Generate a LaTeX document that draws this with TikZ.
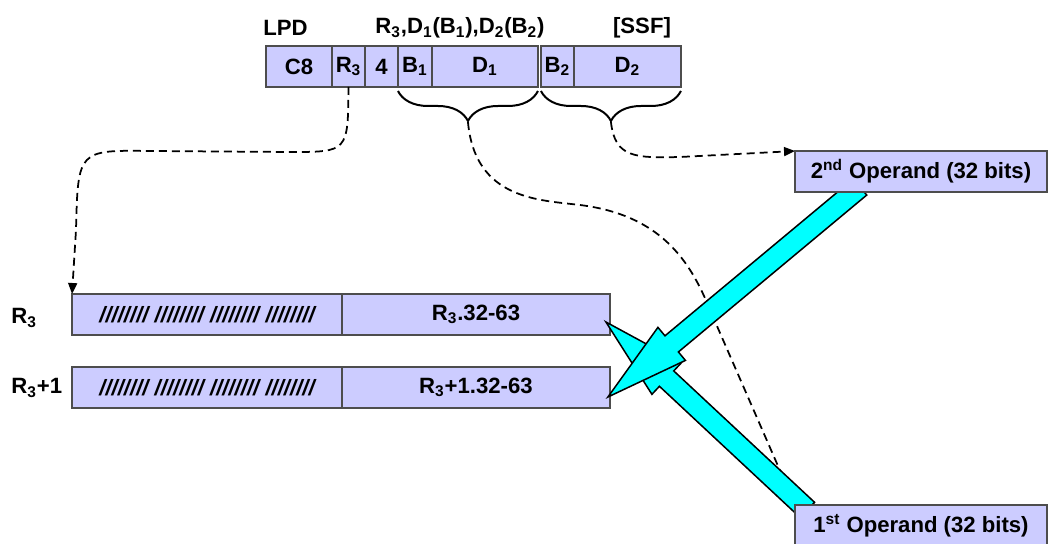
\documentclass[tikz,border=0pt]{standalone}
\usepackage{fontspec}
\setmainfont{Liberation Sans}
\usetikzlibrary{positioning,calc,arrows.meta,decorations.pathreplacing}

\definecolor{fieldfill}{HTML}{CCCCFF}
\definecolor{fieldline}{HTML}{4D4D4D}
\definecolor{flowcyan}{HTML}{00FFFF}

\pgfdeclarelayer{front}
\pgfsetlayers{main,front}

\tikzset{
  fld/.style={draw=fieldline, fill=fieldfill, line width=0.3mm, minimum height=8.2mm,
    inner sep=0pt, outer sep=0pt, font=\bfseries\fontsize{12.6}{15}\selectfont},
  lbl/.style={inner sep=0pt, font=\bfseries\fontsize{12.6}{15}\selectfont},
  opbrace/.style={decorate, decoration={brace, amplitude=6mm}, line width=0.4mm},
  ptr/.style={dashed, dash pattern=on 1.6mm off 1mm, line width=0.35mm,
    -{Triangle[length=2.2mm,width=1.8mm]}},
  link/.style={dashed, dash pattern=on 1.6mm off 1mm, line width=0.35mm},
  flow/.style={fill=flowcyan, draw=black, line width=0.3mm, line join=miter}
}

% block arrow: tail, tip, name
\newcommand{\flowarrow}[3]{%
  \coordinate (#3h) at ($(#2)!1.66cm!(#1)$);
  \filldraw[flow] ($(#1)!0.21cm!90:(#2)$) -- ($(#3h)!0.21cm!90:(#2)$)
    -- ($(#3h)!0.43cm!90:(#2)$) -- (#2) -- ($(#3h)!0.43cm!-90:(#2)$)
    -- ($(#3h)!0.21cm!-90:(#2)$) -- ($(#1)!0.21cm!-90:(#2)$) -- cycle;
}

\begin{document}
\begin{tikzpicture}[x=0.02cm, y=0.02cm]
\useasboundingbox (0,0) rectangle (1049,-544);

% instruction format
\node[lbl, anchor=west] (lpd) at (263,-28) {LPD};
\node[lbl] (opnds) at (460,-28) {R\textsubscript{3},D\textsubscript{1}(B\textsubscript{1}),D\textsubscript{2}(B\textsubscript{2})};
\node[lbl] (ssf) at (642,-28) {[SSF]};

\node[fld, minimum width=13.2mm] (c8) at (299,-66.5) {C8};
\node[fld, minimum width=6.6mm, right=0pt of c8] (r3f) {R\textsubscript{3}};
\node[fld, minimum width=6.6mm, right=0pt of r3f] (four) {4};
\node[fld, minimum width=6.8mm, right=0pt of four] (b1) {B\textsubscript{1}};
\node[fld, minimum width=21.2mm, right=0pt of b1] (d1) {D\textsubscript{1}};
\node[fld, minimum width=6.6mm, right=0.6mm of d1] (b2) {B\textsubscript{2}};
\node[fld, minimum width=21.4mm, right=0pt of b2] (d2) {D\textsubscript{2}};

\draw[opbrace] ($(d1.south east)+(0,-4)$) -- ($(b1.south west)+(0,-4)$);
\draw[opbrace] ($(d2.south east)+(0,-4)$) -- ($(b2.south west)+(0,-4)$);
\coordinate (tip1) at ($(b1.south west)!0.5!(d1.south east)+(0,-35)$);
\coordinate (tip2) at ($(b2.south west)!0.5!(d2.south east)+(0,-35)$);

% register pair
\node[lbl, anchor=west] (r3name) at (11,-318) {R\textsubscript{3}};
\node[lbl, anchor=west] (r4name) at (11,-388) {R\textsubscript{3}+1};
\node[fld, minimum width=54mm] (r3hi) at (207,-314.5) {\itshape //////// //////// //////// ////////};
\node[fld, minimum width=53.6mm, right=0pt of r3hi] (r3lo) {R\textsubscript{3}.32-63};
\node[fld, minimum width=54mm] (r4hi) at (207,-387.5) {\itshape //////// //////// //////// ////////};
\node[fld, minimum width=53.6mm, right=0pt of r4hi] (r4lo) {R\textsubscript{3}+1.32-63};

% operands
\begin{pgfonlayer}{front}
\node[fld, minimum width=50.4mm] (op2) at (921,-171.5) {2\textsuperscript{nd} Operand (32 bits)};
\node[fld, minimum width=50.4mm] (op1) at (921,-525.5) {1\textsuperscript{st} Operand (32 bits)};
\end{pgfonlayer}

% dashed references
\draw[ptr] (r3f.south) .. controls (348,-152) .. (290,-152) -- (150,-151)
  .. controls (78,-150) .. (76,-230) -- (r3hi.north west);
\draw[ptr] (tip2) .. controls (615,-158) and (635,-158) .. (680,-157) -- (op2.north west);
\draw[link] (tip1) .. controls (475,-200) and (540,-200) .. (580,-205)
  .. controls (660,-215) and (690,-260) .. (710,-310) -- (op1.north west);

% data flow
\coordinate (from1) at ($(op1.north west)+(12.4,-5)$);
\coordinate (to1) at ($(r3lo.east)+(-4,-7.5)$);
\coordinate (from2) at ($(op2.south west)+(65,5)$);
\coordinate (to2) at ($(r4lo.east)+(-2,-9.5)$);
\flowarrow{from1}{to1}{fa}
\flowarrow{from2}{to2}{fb}
\end{tikzpicture}
\end{document}
